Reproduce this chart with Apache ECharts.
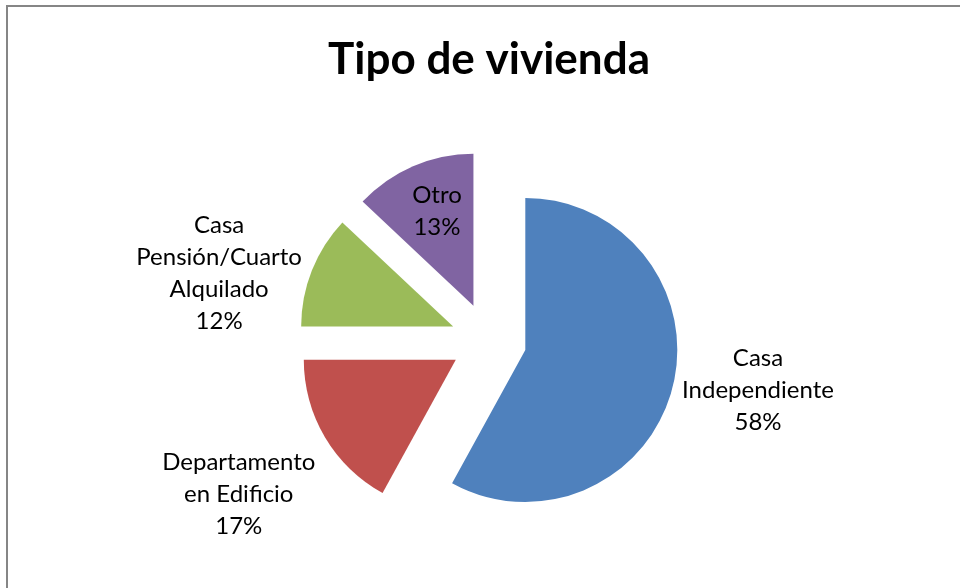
<!DOCTYPE html>
<html><head><meta charset="utf-8">
<script src="https://cdn.jsdelivr.net/npm/echarts@6/dist/echarts.min.js"></script>
<style>html,body{margin:0;padding:0;background:#fff}#c{width:960px;height:588px}</style>
</head><body><div id="c"></div>
<script>
const categories = ['Casa Independiente', 'Departamento en Edificio', 'Casa Pensión/Cuarto Alquilado', 'Otro'];
const values = [58, 17, 12, 13];
const colors = ['#4F81BD', '#C0504D', '#9BBB59', '#8064A2'];

// layout / style settings
const CX = 488.5, CY = 340.5, R = 152, OFF = 38;
const labelAngleNudge = [-4.0, -1.1, -7.6, 1.7];
const labelDist = [274, 293.5, 277.6, 139.4];

const total = values.reduce((a, b) => a + b, 0);
const mids = []; let acc = 0;
values.forEach(v => { mids.push((acc + v / 2) / total * 360); acc += v; });

function wrap(s, max) {
  const w = s.split(' '); const lines = []; let cur = '';
  w.forEach(x => {
    if (!cur) cur = x;
    else if ((cur + ' ' + x).length <= max) cur += ' ' + x;
    else { lines.push(cur); cur = x; }
  });
  if (cur) lines.push(cur);
  return lines.join('\n');
}

// one pie per slice so each slice can be pulled out along its own bisector
const series = categories.map((_, k) => {
  const a = mids[k] * Math.PI / 180;
  return {
    type: 'pie',
    center: [CX + OFF * Math.sin(a), CY - OFF * Math.cos(a)],
    radius: R,
    startAngle: 90,
    clockwise: true,
    avoidLabelOverlap: false,
    emphasis: {disabled: true},
    silent: true,
    label: {
      show: true, position: 'outside',
      fontFamily: 'Lato', fontSize: 24, lineHeight: 32, color: '#000',
      formatter: p => wrap(p.name, 14) + '\n' + Math.round(p.percent) + '%'
    },
    labelLine: {show: false},
    labelLayout: function (params) {
      const i = params.dataIndex;
      const ang = (mids[i] + labelAngleNudge[i]) * Math.PI / 180;
      return {
        x: CX + labelDist[i] * Math.sin(ang),
        y: CY - labelDist[i] * Math.cos(ang),
        align: 'center', verticalAlign: 'middle'
      };
    },
    data: categories.map((n, i) => ({
      name: n, value: values[i],
      itemStyle: {color: i === k ? colors[i] : 'rgba(0,0,0,0)'},
      label: {show: i === k}
    }))
  };
});

const chart = echarts.init(document.getElementById('c'), null, {renderer: 'canvas'});
chart.setOption({
  animation: false,
  backgroundColor: '#fff',
  graphic: [
    {type: 'polyline', shape: {points: [[7, 588], [7, 6], [960, 6]]}, style: {stroke: '#868686', lineWidth: 2, fill: null}}
  ],
  title: {
    text: 'Tipo de vivienda',
    left: 484, top: 33, textAlign: 'center',
    textStyle: {fontFamily: 'Lato', fontWeight: 'bold', fontSize: 44, color: '#000'}
  },
  series: series
});
</script></body></html>
